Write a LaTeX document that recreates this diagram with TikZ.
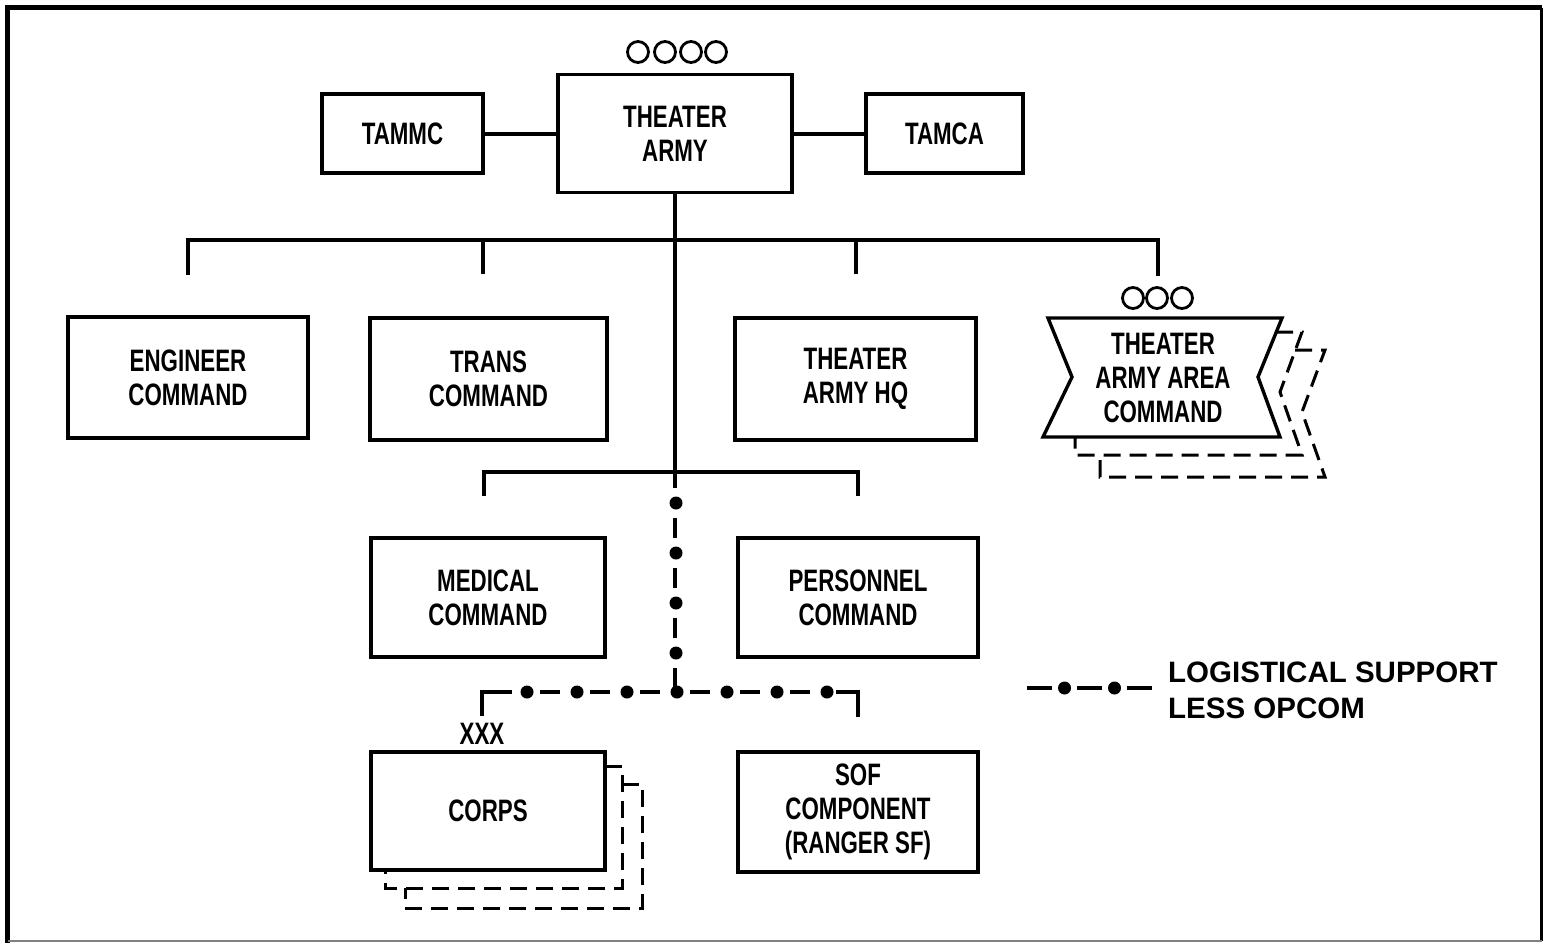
\documentclass[tikz,border=0pt]{standalone}
\usepackage{fontspec}
\newfontfamily\boxfont[FakeStretch=0.72]{Liberation Sans}
\newfontfamily\legfont{Liberation Sans}
\begin{document}
\begin{tikzpicture}[x=1pt,y=-1pt,
  box/.style={draw, line width=3.4pt, inner sep=0pt, align=center,
    font=\boxfont\bfseries\fontsize{31}{34}\selectfont},
  conn/.style={line width=4pt},
  shadowline/.style={line width=3pt, dash pattern=on 17pt off 9pt},
  logv/.style={line width=3.6pt, dash pattern=on 20pt off 30pt, dash phase=4pt},
  logh/.style={line width=3.6pt, dash pattern=on 20pt off 30pt, dash phase=35pt},
  bigdot/.style={circle, fill, inner sep=0pt, minimum size=13pt},
  ring/.style={line width=2.8pt},
  lbl/.style={inner sep=0pt, align=center, font=\boxfont\bfseries\fontsize{31}{34}\selectfont}
]
\useasboundingbox (0,0) rectangle (1544,943);
\fill[white] (0,0) rectangle (1544,943);
% frame
\draw[line width=5pt] (7.5,943) -- (7.5,7.5) -- (1542,7.5);
\draw[line width=3pt] (1541.5,7.5) -- (1541.5,941);
\draw[gray, line width=2pt] (7.5,941) -- (1541.5,941);

% boxes
\node[box, minimum width=234pt, minimum height=118pt] (ta) at (675,133.5) {THEATER\\ARMY};
\node[box, minimum width=161pt, minimum height=79pt] (tammc) at (402.5,133.5) {TAMMC};
\node[box, minimum width=157pt, minimum height=79pt] (tamca) at (944.5,133.5) {TAMCA};
\node[box, minimum width=240pt, minimum height=121pt] (eng) at (188,377.5) {ENGINEER\\COMMAND};
\node[box, minimum width=237pt, minimum height=122pt] (trans) at (488.5,379) {TRANS\\COMMAND};
\node[box, minimum width=241pt, minimum height=122pt] (tahq) at (855.5,379) {THEATER\\ARMY HQ};
\node[box, minimum width=234pt, minimum height=119pt] (med) at (488,597.5) {MEDICAL\\COMMAND};
\node[box, minimum width=240pt, minimum height=119pt] (pers) at (858,597.5) {PERSONNEL\\COMMAND};
\node[box, minimum width=240pt, minimum height=120pt] (sof) at (858,812) {SOF\\COMPONENT\\(RANGER SF)};

% corps with shadows
\draw[shadowline] (605,766) -- (622,766) -- (622,888) -- (385,888) -- (385,870);
\draw[shadowline] (622,784) -- (642,784) -- (642,908) -- (405,908) -- (405,888);
\node[box, fill=white, minimum width=234pt, minimum height=118pt] (corps) at (488,811) {CORPS};
\node[lbl] (xxx) at (482,734) {XXX};

% TAAC banner with shadows
\draw[shadowline] (1276,332) -- (1302,332) -- (1280,392) -- (1302,455) -- (1075,455) -- (1075,437);
\draw[shadowline] (1295,350) -- (1325,350) -- (1302,412) -- (1325,477) -- (1100,477) -- (1100,455);
\draw[line width=3.4pt, fill=white, line join=miter] (1048,318) -- (1282,318) -- (1258,377) -- (1280,437) -- (1043,437) -- (1072,377) -- cycle;
\node[lbl] (taac) at (1163,378) {THEATER\\ARMY AREA\\COMMAND};

% rank circles
\foreach \x in {638,665,691,716} \draw[ring] (\x,52) circle (10.5pt);
\foreach \x in {1133,1157,1182} \draw[ring] (\x,298) circle (10.5pt);

% coordinates
\coordinate (j1) at (675,240);
\coordinate (j2) at (675,472);
\coordinate (j3) at (675,692);
\coordinate (taacdrop) at (1158,276);
\coordinate (cd) at (482,716);
\coordinate (sd) at (858,717);

% solid connectors
\draw[conn] (tammc.east) -- (ta.west);
\draw[conn] (ta.east) -- (tamca.west);
\draw[conn] (ta.south) -- (j2);
\draw[conn] ([yshift=40pt]eng.north) -- (eng.north |- j1) -- (taacdrop |- j1) -- (taacdrop);
\draw[conn] ([yshift=42pt,xshift=-6pt]trans.north) -- ([xshift=-6pt]trans.north |- j1);
\draw[conn] ([yshift=42pt]tahq.north) -- (tahq.north |- j1);
\draw[conn] ([yshift=40pt,xshift=-4pt]med.north) -- ([xshift=-4pt]med.north |- j2) -- (pers.north |- j2) -- ([yshift=40pt]pers.north);

% logistical support lines
\draw[logv] (j2) -- (j3);
\draw[logh] (j3) -| (cd);
\draw[logh] (j3) -| (sd);
\draw[line width=3.6pt] ([xshift=30pt]cd |- j3) -| (cd);
\draw[line width=3.6pt] ([xshift=-22pt]sd |- j3) -| (sd);
\foreach \y in {503,553,603,653} \node[bigdot] at (676,\y) {};
\foreach \x in {527,577,627,677,727,777,827} \node[bigdot] at (\x,692) {};

% legend
\coordinate (la) at (1027,688);
\coordinate (lb) at (1152,688);
\draw[line width=3.6pt, dash pattern=on 25pt off 25pt] (la) -- (lb);
\node[bigdot] at (1064.5,688) {};
\node[bigdot] at (1114.5,688) {};
\node[anchor=west, align=left, inner sep=0pt,
  font=\legfont\bfseries\fontsize{29.5}{36}\selectfont] (leg) at (1168,690)
  {LOGISTICAL SUPPORT\\LESS OPCOM};
\end{tikzpicture}
\end{document}
